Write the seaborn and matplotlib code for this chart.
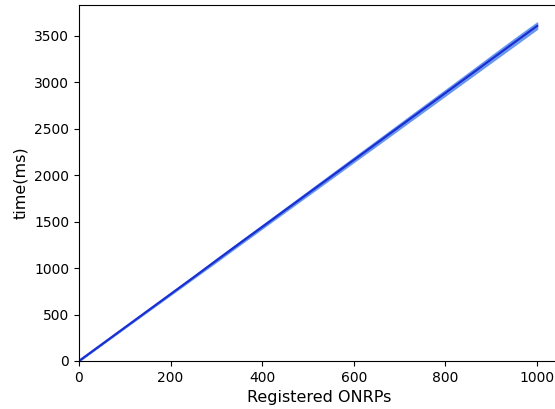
import numpy as np
import pandas as pd
import matplotlib
matplotlib.use("Agg")
import matplotlib.pyplot as plt
import seaborn as sns

# registered ONRPs and measured time (ms) over three runs
onrps = [0, 50, 100, 150, 200, 250, 300, 350, 400, 450, 500,
         550, 600, 650, 700, 750, 800, 850, 900, 950, 1000]
run1 = [0, 182, 364, 546, 728, 910, 1097, 1280, 1460, 1642, 1824,
        2006, 2188, 2370, 2552, 2734, 2916, 3098, 3282, 3464, 3642]
run2 = [0, 178, 356, 534, 712, 890, 1068, 1248, 1427, 1606, 1784,
        1963, 2142, 2320, 2499, 2678, 2857, 3036, 3215, 3394, 3573]
run3 = [0, 180, 360, 540, 719, 899, 1080, 1260, 1440, 1620, 1800,
        1979, 2159, 2339, 2519, 2699, 2878, 3058, 3238, 3418, 3598]

df = pd.DataFrame({
    "Registered ONRPs": onrps * 3,
    "time(ms)": run1 + run2 + run3,
})

fig = plt.figure(figsize=(5.55, 4.09), dpi=100)
ax = fig.add_axes([0.1423, 0.1174, 0.8667, 0.8704])
# band
sns.lineplot(data=df, x="Registered ONRPs", y="time(ms)", ax=ax,
             color="#5a8ef0", errorbar=("pi", 100), err_kws={"alpha": 0.85},
             linewidth=0)
# mean line
sns.lineplot(data=df, x="Registered ONRPs", y="time(ms)", ax=ax,
             color="#1b2fd0", errorbar=None, linewidth=1.6)
ax.set_xlim(0, 1050)
ax.set_ylim(0, 3830)
ax.set_xlabel("Registered ONRPs", fontsize=11.5)
ax.set_ylabel("time(ms)", fontsize=11.5)

fig.savefig("out.png", dpi=100)
